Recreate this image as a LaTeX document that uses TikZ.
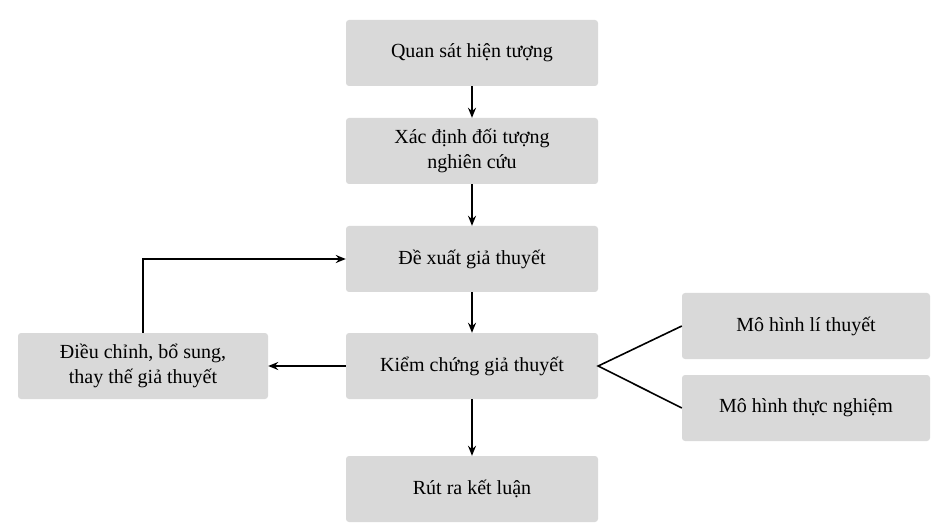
\documentclass[tikz,border=0pt]{standalone}
\usepackage{fontspec}
\setmainfont{Liberation Serif}
\usetikzlibrary{arrows.meta}
\definecolor{boxgray}{HTML}{D9D9D9}
\begin{document}
\begin{tikzpicture}[x=1pt,y=-1pt,
  box/.style={fill=boxgray,rounded corners=3pt,minimum width=252pt,minimum height=66pt,align=center,font=\fontsize{20}{25}\selectfont,inner sep=2pt},
  arr/.style={line width=1.6pt,-{Stealth[length=10pt,width=8pt]}},
  ln/.style={line width=1.6pt}]
\useasboundingbox (0,0) rectangle (942,529);
\node[box] (a) at (472,53) {Quan sát hiện tượng};
\node[box] (b) at (472,151) {Xác định đối tượng\\nghiên cứu};
\node[box] (c) at (472,259) {Đề xuất giả thuyết};
\node[box] (d) at (472,366) {Kiểm chứng giả thuyết};
\node[box] (e) at (472,489) {Rút ra kết luận};
\node[box,minimum width=250pt] (l) at (143,366) {Điều chỉnh, bổ sung,\\thay thế giả thuyết};
\node[box,minimum width=248pt] (r1) at (806,326) {Mô hình lí thuyết};
\node[box,minimum width=248pt] (r2) at (806,408) {Mô hình thực nghiệm};
\draw[arr] (a) -- (b);
\draw[arr] (b) -- (c);
\draw[arr] (c) -- (d);
\draw[arr] (d) -- (e);
\draw[arr] (d) -- (l);
\draw[arr] (l.north) |- (c.west);
\draw[ln] (r1.west) -- (d.east) -- (r2.west);
\end{tikzpicture}
\end{document}
